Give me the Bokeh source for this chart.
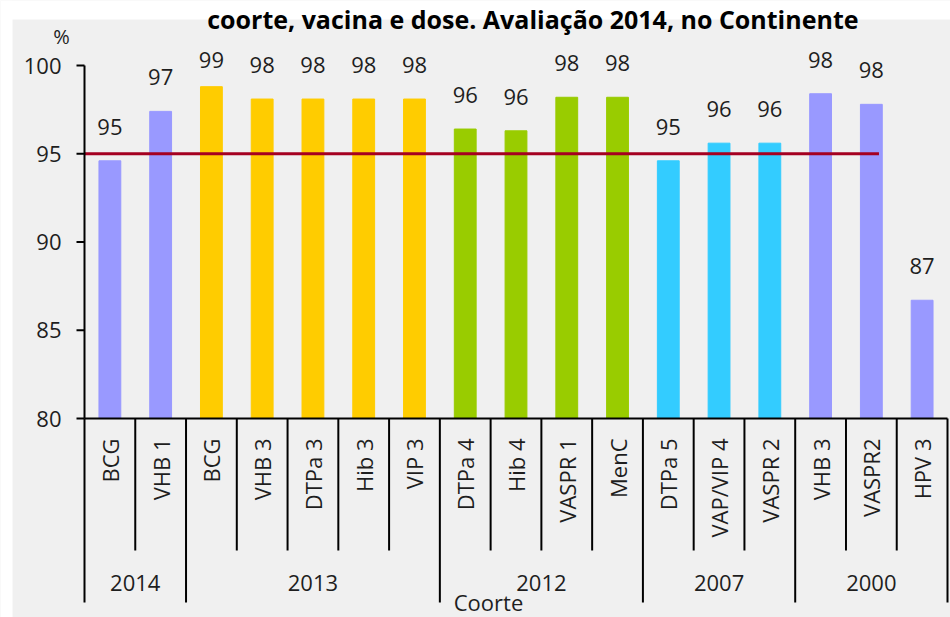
import numpy as np
from bokeh.plotting import figure
from bokeh.models import ColumnDataSource
from bokeh.core.properties import value
from bokeh.embed import file_html
from bokeh.resources import INLINE

# ---------------- data ----------------
cohorts = ["2014", "2013", "2012", "2007", "2000"]
group_sizes = [2, 5, 4, 3, 3]
group_colors = ["#9999ff", "#ffcc00", "#99cc00", "#33ccff", "#9999ff"]
vaccines = ["BCG", "VHB 1",
            "BCG", "VHB 3", "DTPa 3", "Hib 3", "VIP 3",
            "DTPa 4", "Hib 4", "VASPR 1", "MenC",
            "DTPa 5", "VAP/VIP 4", "VASPR 2",
            "VHB 3", "VASPR2", "HPV 3"]
coverage = [94.6, 97.4,
            98.8, 98.1, 98.1, 98.1, 98.1,
            96.4, 96.3, 98.2, 98.2,
            94.6, 95.6, 95.6,
            98.4, 97.8, 86.7]
target = 95
y_ticks = [80, 85, 90, 95, 100]
title_text = "coorte, vacina e dose. Avaliação 2014, no Continente"
x_title = "Coorte"
y_unit = "%"

# ---------------- layout constants ----------------
W, H = 950, 617
FONT = value("Open Sans")
TXT = "#1e1e1e"
BG = "#f0f0f0"
Y0, Y1 = 80, 100
X_LEFT_PX, X_RIGHT_PX = 84, 947       # pixel columns of category 0 and 17
Y0_PX, Y1_PX = 418, 65                # pixel rows of 80 % and 100 %

n = len(vaccines)
PXX = (X_RIGHT_PX - X_LEFT_PX) / n
PXY = (Y0_PX - Y1_PX) / (Y1 - Y0)


def dx(px):   # pixel column -> data x
    return (px - X_LEFT_PX) / PXX


def dy(py):   # pixel row -> data y
    return Y0 + (Y0_PX - py) / PXY


centers = np.arange(n) + 0.5
colors = list(np.repeat(group_colors, group_sizes))
bounds = np.concatenate([[0], np.cumsum(group_sizes)])
group_centers = (bounds[:-1] + bounds[1:]) / 2

p = figure(width=W, height=H, x_range=(dx(0), dx(W)), y_range=(dy(H), dy(0)),
           x_axis_location=None, y_axis_location=None,
           output_backend="svg", toolbar_location=None,
           min_border=0, background_fill_color=BG, border_fill_color=BG,
           outline_line_color=None)
p.grid.visible = False

# white page strips above and left of the grey chart area
p.quad(left=[dx(0)], right=[dx(W)], bottom=[dy(19)], top=[dy(0)],
       fill_color="white", line_color=None)
p.quad(left=[dx(0)], right=[dx(12)], bottom=[dy(H)], top=[dy(0)],
       fill_color="white", line_color=None)

# bars
src = ColumnDataSource(dict(x=centers, top=coverage, color=colors,
                            lab=[f"{v:.0f}" for v in coverage],
                            ly=np.minimum(np.array(coverage) + 34 / PXY, 100.3),
                            vac=vaccines))
p.vbar(x="x", top="top", bottom=Y0, width=0.43, color="color", source=src)

# value labels
p.text(x="x", y="ly", text="lab", source=src, text_font=FONT, text_font_size="22px",
       text_color=TXT, text_align="center", text_baseline="middle")

# target line
p.line([0, 15.65], [target, target], line_color="#a50021", line_width=3)

# y axis: line, ticks, labels
long_end = dy(602)
short_end = dy(550)
p.segment(x0=[0], y0=[Y1], x1=[0], y1=[Y0], line_color="black", line_width=2)
p.segment(x0=[dx(76)] * len(y_ticks), y0=y_ticks, x1=[0] * len(y_ticks), y1=y_ticks,
          line_color="black", line_width=2)
p.text(x=[dx(61)] * len(y_ticks), y=y_ticks, text=[str(t) for t in y_ticks],
       text_font=FONT, text_font_size="22px", text_color=TXT,
       text_align="right", text_baseline="middle")
p.text(x=[dx(61)], y=[dy(36)], text=[y_unit], text_font=FONT, text_font_size="20px",
       text_color=TXT, text_align="center", text_baseline="middle")

# x axis line
p.segment(x0=[0], y0=[Y0], x1=[n], y1=[Y0], line_color="black", line_width=2)

# category separators
inner = [b for b in range(1, n) if b not in bounds]
p.segment(x0=inner, y0=Y0, x1=inner, y1=short_end, line_color="black", line_width=2)
p.segment(x0=list(bounds), y0=Y0, x1=list(bounds), y1=long_end, line_color="black", line_width=2)

# category labels
p.text(x="x", y=dy(438), text="vac", source=src, angle=np.pi / 2,
       text_font=FONT, text_font_size="22px", text_color=TXT,
       text_align="right", text_baseline="middle")

# cohort labels
p.text(x=list(group_centers), y=[dy(582)] * len(cohorts), text=cohorts,
       text_font=FONT, text_font_size="22px", text_color=TXT,
       text_align="center", text_baseline="middle")

# axis title
p.text(x=[dx(488)], y=[dy(616)], text=[x_title],
       text_font=FONT, text_font_size="22px", text_color=TXT,
       text_align="center", text_baseline="bottom")

# chart title (top of the page)
p.text(x=[dx(858)], y=[dy(18)], text=[title_text],
       text_font=FONT, text_font_size="25px", text_font_style="bold",
       text_color="black", text_align="right", text_baseline="alphabetic")

open("out.html", "w").write(file_html(p, INLINE))
